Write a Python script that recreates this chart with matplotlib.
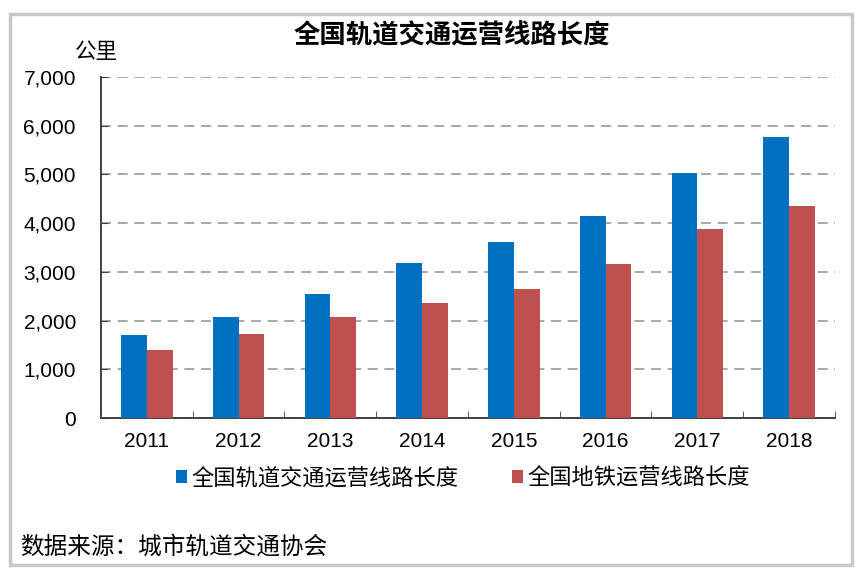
import matplotlib.pyplot as plt
from matplotlib.patches import Rectangle
import numpy as np

years = ["2011", "2012", "2013", "2014", "2015", "2016", "2017", "2018"]
rail_len = [1699, 2064, 2539, 3173, 3618, 4153, 5033, 5761]
metro_len = [1390, 1730, 2074, 2361, 2658, 3169, 3884, 4354]
yticks = [0, 1000, 2000, 3000, 4000, 5000, 6000, 7000]

cjk = ["Noto Sans CJK SC", "DejaVu Sans"]
num = ["Liberation Sans", "DejaVu Sans"]
plt.rcParams["font.family"] = cjk

fig = plt.figure(figsize=(8.62, 5.77), dpi=100)
# outer frame with a soft grey edge
fig.patches.append(Rectangle((0.012, 0.02), 0.976, 0.955, transform=fig.transFigure,
                             facecolor="white", edgecolor="#c8c8c8", linewidth=2.5, zorder=-1))

ax = fig.add_axes([101 / 862, 1 - 418 / 577, 734 / 862, 341 / 577])
ax.patch.set_alpha(0)
x = np.arange(len(years))
w = 0.28
ax.bar(x - w / 2, rail_len, w, color="#0070C0", label="全国轨道交通运营线路长度", zorder=3)
ax.bar(x + w / 2, metro_len, w, color="#C0504D", label="全国地铁运营线路长度", zorder=3)

ax.set_xlim(-0.5, len(years) - 0.5)
ax.set_ylim(0, 7000)
ax.set_yticks(yticks)
ax.set_yticklabels([f"{v:,}" for v in yticks], family=num, fontsize=15)
ax.set_xticks(x)
ax.set_xticklabels(years, family=num, fontsize=15)
ax.set_xticks(np.arange(len(years) + 1) - 0.5, minor=True)
ax.tick_params(axis="x", which="major", length=0, pad=10)
ax.tick_params(axis="x", which="minor", direction="in", length=5, color="#404040")
ax.tick_params(axis="y", direction="in", length=5, pad=18, color="#404040")
ax.yaxis.grid(True, linestyle=(0, (6, 4)), color="#9a9a9a", linewidth=1.2, zorder=0)
ax.set_axisbelow(True)
for s in ["top", "right"]:
    ax.spines[s].set_visible(False)
for s in ["left", "bottom"]:
    ax.spines[s].set_color("#404040")
    ax.spines[s].set_linewidth(1.4)

fig.text(452 / 862, 1 - 36 / 577, "全国轨道交通运营线路长度", ha="center", va="center",
         fontsize=19, fontweight="bold")
fig.text(96 / 862, 1 - 52 / 577, "公里", ha="center", va="center", fontsize=15.5, fontweight="medium")

fig.legend(loc="center", bbox_to_anchor=(463 / 862, 1 - 478 / 577), ncol=2, frameon=False,
           fontsize=16, handlelength=0.5, handleheight=0.5, handletextpad=0.2, columnspacing=2.4)

fig.text(20 / 862, 1 - 547 / 577, "数据来源：城市轨道交通协会", ha="left", va="center", fontsize=17)

fig.savefig("out.png", dpi=100)
